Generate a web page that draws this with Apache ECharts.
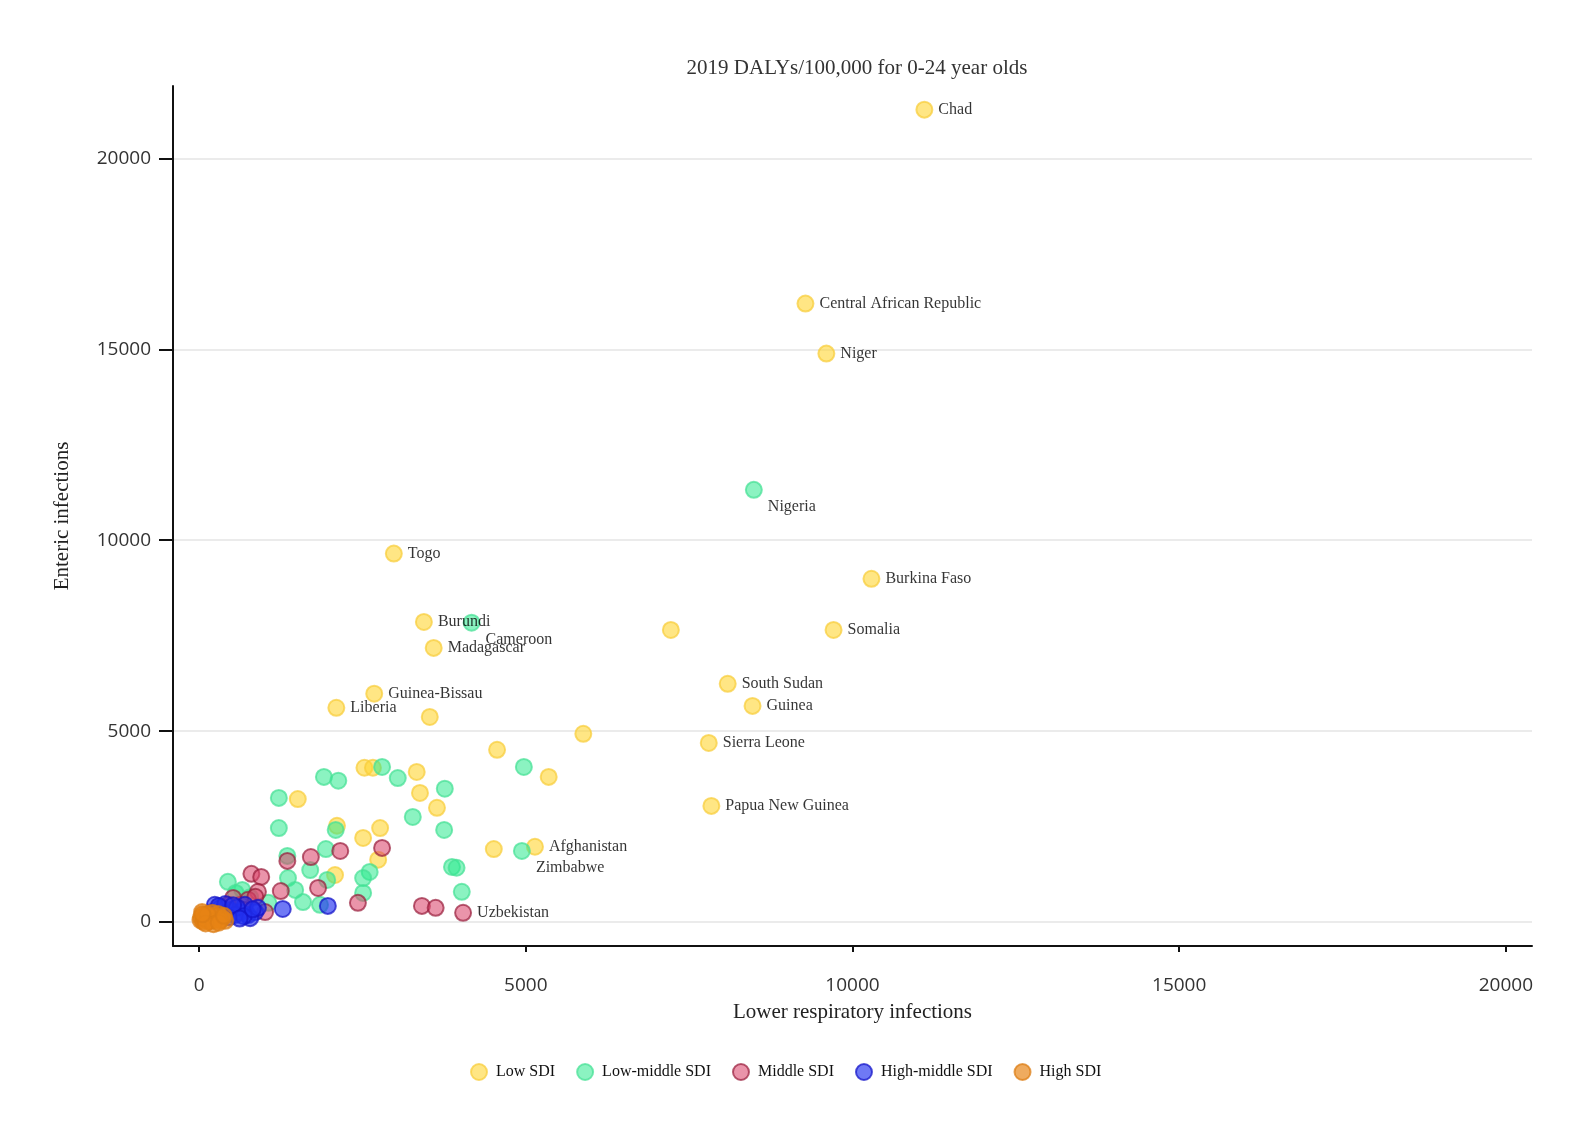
<!DOCTYPE html>
<html>
<head>
<meta charset="utf-8">
<script src="https://cdn.jsdelivr.net/npm/echarts@6/dist/echarts.min.js"></script>
<style>
html,body{margin:0;padding:0;background:#fff;}
#chart{width:1569px;height:1146px;}
</style>
</head>
<body>
<div id="chart"></div>
<script>
// ---- data: [x = Lower respiratory infections, y = Enteric infections, label]
const lowSDI = [
  [11100, 21280, 'Chad'], [9280, 16200, 'Central African Republic'], [9600, 14890, 'Niger'],
  [2980, 9650, 'Togo'], [10290, 8990, 'Burkina Faso'], [3440, 7860, 'Burundi'],
  [3590, 7180, 'Madagascar'], [9710, 7650, 'Somalia'], [7220, 7650, ''],
  [8090, 6240, 'South Sudan'], [8470, 5660, 'Guinea'], [2680, 5980, 'Guinea-Bissau'],
  [2100, 5610, 'Liberia'], [3530, 5370, ''], [5880, 4930, ''], [7800, 4690, 'Sierra Leone'],
  [4560, 4510, ''], [7840, 3040, 'Papua New Guinea'], [5140, 1970, 'Afghanistan'],
  [4510, 1910, ''], [5350, 3800, ''], [2530, 4040, ''], [2660, 4040, ''],
  [3330, 3930, ''], [1510, 3220, ''], [3380, 3380, ''], [3640, 2990, ''],
  [2110, 2520, ''], [2770, 2460, ''], [2510, 2200, ''], [2740, 1630, ''], [2080, 1230, '']
];
const lowMiddleSDI = [
  [8490, 11320, 'Nigeria'], [4170, 7840, 'Cameroon'], [4940, 1860, 'Zimbabwe'],
  [2800, 4060, ''], [1910, 3800, ''], [2130, 3700, ''], [3040, 3770, ''], [3760, 3490, ''],
  [1220, 3250, ''], [4970, 4060, ''], [3270, 2750, ''], [1220, 2460, ''], [2090, 2410, ''],
  [3750, 2410, ''], [1940, 1910, ''], [1350, 1730, ''], [3870, 1440, ''], [3940, 1420, ''],
  [1700, 1360, ''], [2610, 1310, ''], [2510, 1150, ''], [1960, 1100, ''], [1360, 1150, ''],
  [440, 1050, ''], [1470, 840, ''], [2510, 760, ''], [4020, 790, ''], [1590, 520, ''],
  [1850, 450, ''], [660, 840, ''], [1060, 500, ''], [780, 650, ''], [560, 760, '']
];
const middleSDI = [
  [4040, 240, 'Uzbekistan'], [2800, 1940, ''], [2160, 1860, ''], [1710, 1700, ''],
  [1350, 1600, ''], [1820, 890, ''], [1250, 810, ''], [800, 1260, ''], [950, 1180, ''],
  [900, 790, ''], [2430, 500, ''], [3410, 420, ''], [3620, 370, ''], [1010, 260, ''],
  [630, 450, ''], [750, 580, ''], [860, 660, ''], [520, 630, ''], [700, 310, ''], [440, 450, '']
];
const highMiddleSDI = [
  [1280, 340, ''], [1970, 420, ''], [200, 260, ''], [320, 370, ''], [470, 310, ''],
  [630, 260, ''], [750, 180, ''], [860, 260, ''], [240, 450, ''], [400, 470, ''],
  [700, 450, ''], [550, 180, ''], [780, 100, ''], [900, 370, ''], [170, 160, ''],
  [350, 200, ''], [580, 380, ''], [680, 150, ''], [820, 330, ''], [450, 120, ''],
  [300, 420, ''], [520, 440, ''], [620, 90, ''], [280, 130, '']
];
const highSDI = [
  [20, 50, ''], [90, 180, ''], [170, 100, ''], [245, 50, ''], [45, 260, ''], [140, 20, ''],
  [290, 210, ''], [350, 100, ''], [30, 120, ''], [200, 240, ''], [400, 30, ''], [110, 60, ''],
  [60, 10, ''], [260, 150, ''], [180, 30, ''], [80, 90, ''], [320, 40, ''], [130, 200, ''],
  [220, -60, ''], [100, -40, ''], [300, -20, ''], [50, 200, ''], [380, 160, '']
];

const seriesNames = ['Low SDI', 'Low-middle SDI', 'Middle SDI', 'High-middle SDI', 'High SDI'];
const xTicks = [0, 5000, 10000, 15000, 20000];
const yTicks = [0, 5000, 10000, 15000, 20000];

const fills = ['rgba(255,214,50,0.75)', 'rgba(40,232,140,0.68)', 'rgba(218,70,108,0.72)', 'rgba(35,50,240,0.82)', 'rgba(232,132,20,0.85)'];
const borders = ['rgba(248,205,60,0.9)', 'rgba(70,225,150,0.9)', 'rgba(150,25,55,0.85)', 'rgba(20,20,200,0.9)', 'rgba(220,125,20,0.9)'];
const groups = [lowSDI, lowMiddleSDI, middleSDI, highMiddleSDI, highSDI];

const serif = '"Liberation Serif", "DejaVu Serif", serif';
const sans = '"Open Sans", "Noto Sans", sans-serif';

const labelBase = { fontFamily: serif, fontSize: 16, color: '#000', distance: 5, position: 'right' };

const series = groups.map((g, i) => ({
  name: seriesNames[i],
  type: 'scatter',
  symbol: 'circle',
  symbolSize: 16,
  itemStyle: { color: fills[i], borderColor: borders[i], borderWidth: 2 },
  emphasis: { disabled: true },
  data: g.map(d => {
    const item = { value: [d[0], d[1]] };
    if (d[2]) {
      item.label = Object.assign({ show: true, formatter: d[2] }, labelBase,
        i === 1 ? { offset: [0, 17] } : {});
    }
    return item;
  })
}));

const chart = echarts.init(document.getElementById('chart'), null, { renderer: 'canvas' });
chart.setOption({
  backgroundColor: '#ffffff',
  animation: false,
  title: {
    text: '2019 DALYs/100,000 for 0-24 year olds',
    left: 852, top: 53, textAlign: 'center',
    textStyle: { fontFamily: serif, fontSize: 21, fontWeight: 'normal', color: '#333' }
  },
  legend: {
    data: seriesNames,
    left: 465, top: 1058,
    icon: 'circle', itemWidth: 16, itemHeight: 16, itemGap: 21,
    textStyle: { fontFamily: serif, fontSize: 16, color: '#111', padding: [0, 0, 0, 4] }
  },
  grid: { left: 173, right: 37, top: 86, bottom: 200, containLabel: false },
  xAxis: {
    type: 'value', min: -400, max: 20400,
    name: 'Lower respiratory infections', nameLocation: 'middle', nameGap: 56,
    nameTextStyle: { fontFamily: serif, fontSize: 21, color: '#222' },
    axisLine: { show: true, onZero: false, lineStyle: { color: '#111', width: 2 } },
    axisTick: { show: true, length: 6, customValues: xTicks, lineStyle: { color: '#111', width: 2 } },
    axisLabel: { customValues: xTicks, formatter: v => String(v), fontFamily: sans, fontSize: 19, color: '#333', margin: 30 },
    splitLine: { show: false }
  },
  yAxis: {
    type: 'value', min: -630, max: 21900,
    name: 'Enteric infections', nameLocation: 'middle', nameGap: 100, nameRotate: 90,
    nameTextStyle: { fontFamily: serif, fontSize: 21, color: '#222' },
    axisLine: { show: true, onZero: false, lineStyle: { color: '#111', width: 2 } },
    axisTick: { show: true, length: 14, customValues: yTicks, lineStyle: { color: '#111', width: 2 } },
    axisLabel: { customValues: yTicks, formatter: v => String(v), fontFamily: sans, fontSize: 19, color: '#333', margin: 22 },
    splitLine: { show: true, lineStyle: { color: '#ebebeb', width: 2 } }
  },
  series: series
});
</script>
</body>
</html>
